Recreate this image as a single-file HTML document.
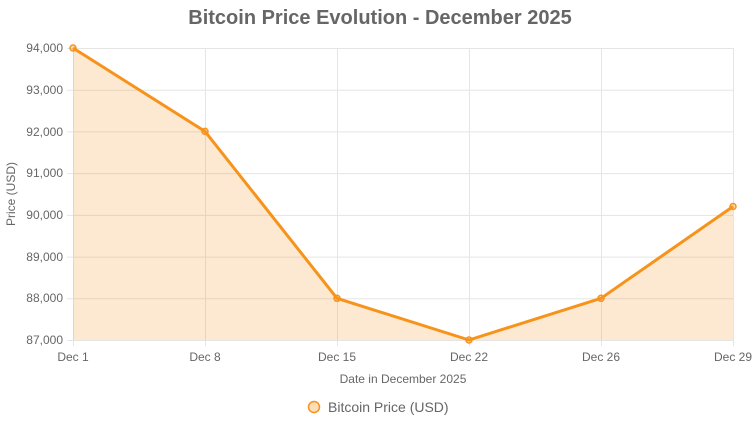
<!DOCTYPE html>
<html><head><meta charset="utf-8"><style>
html,body{margin:0;padding:0;background:#fff;}
svg{display:block;font-family:"Liberation Sans",Arial,sans-serif;}
</style></head><body>
<svg width="755" height="425" viewBox="0 0 755 425">
<text x="380" y="24" text-anchor="middle" font-size="20" font-weight="bold" fill="#666">Bitcoin Price Evolution - December 2025</text>
<g stroke="#e5e5e5" stroke-width="1">
<line x1="67" y1="48.5" x2="733" y2="48.5"/>
<line x1="67" y1="90.2" x2="733" y2="90.2"/>
<line x1="67" y1="131.9" x2="733" y2="131.9"/>
<line x1="67" y1="173.6" x2="733" y2="173.6"/>
<line x1="67" y1="215.4" x2="733" y2="215.4"/>
<line x1="67" y1="257.1" x2="733" y2="257.1"/>
<line x1="67" y1="298.8" x2="733" y2="298.8"/>
<line x1="67" y1="340.5" x2="733" y2="340.5"/>
<line x1="73.5" y1="48" x2="73.5" y2="346"/>
<line x1="205.5" y1="48" x2="205.5" y2="346"/>
<line x1="337.5" y1="48" x2="337.5" y2="346"/>
<line x1="469.5" y1="48" x2="469.5" y2="346"/>
<line x1="601.5" y1="48" x2="601.5" y2="346"/>
<line x1="733.5" y1="48" x2="733.5" y2="346"/>
</g>
<g font-size="12" fill="#666" text-anchor="end">
<text x="63" y="52">94,000</text>
<text x="63" y="94">93,000</text>
<text x="63" y="136">92,000</text>
<text x="63" y="177">91,000</text>
<text x="63" y="219">90,000</text>
<text x="63" y="261">89,000</text>
<text x="63" y="302">88,000</text>
<text x="63" y="344">87,000</text>
</g>
<g font-size="12" fill="#666" text-anchor="middle">
<text x="73" y="361">Dec 1</text>
<text x="205" y="361">Dec 8</text>
<text x="337" y="361">Dec 15</text>
<text x="469" y="361">Dec 22</text>
<text x="601" y="361">Dec 26</text>
<text x="733" y="361">Dec 29</text>
<text x="403" y="383">Date in December 2025</text>
<text transform="translate(15,194) rotate(-90)">Price (USD)</text>
</g>
<path d="M73,48 L205,131.4 L337,298.3 L469,340 L601,298.3 L733,206.5 L733,340 L73,340 Z" fill="rgba(247,147,26,0.2)"/>
<polyline points="73,48 205,131.4 337,298.3 469,340 601,298.3 733,206.5" fill="none" stroke="#f7931a" stroke-width="3" stroke-linejoin="round"/>
<g fill="rgba(247,147,26,0.3)" stroke="#f7931a" stroke-width="1.5">
<circle cx="73" cy="48" r="3"/><circle cx="205" cy="131.4" r="3"/><circle cx="337" cy="298.3" r="3"/>
<circle cx="469" cy="340" r="3"/><circle cx="601" cy="298.3" r="3"/><circle cx="733" cy="206.5" r="3"/>
</g>
<circle cx="314" cy="407" r="5.5" fill="rgba(247,147,26,0.3)" stroke="#f7931a" stroke-width="1.5"/>
<text x="328" y="412" font-size="14" fill="#666">Bitcoin Price (USD)</text>
</svg>
</body></html>
